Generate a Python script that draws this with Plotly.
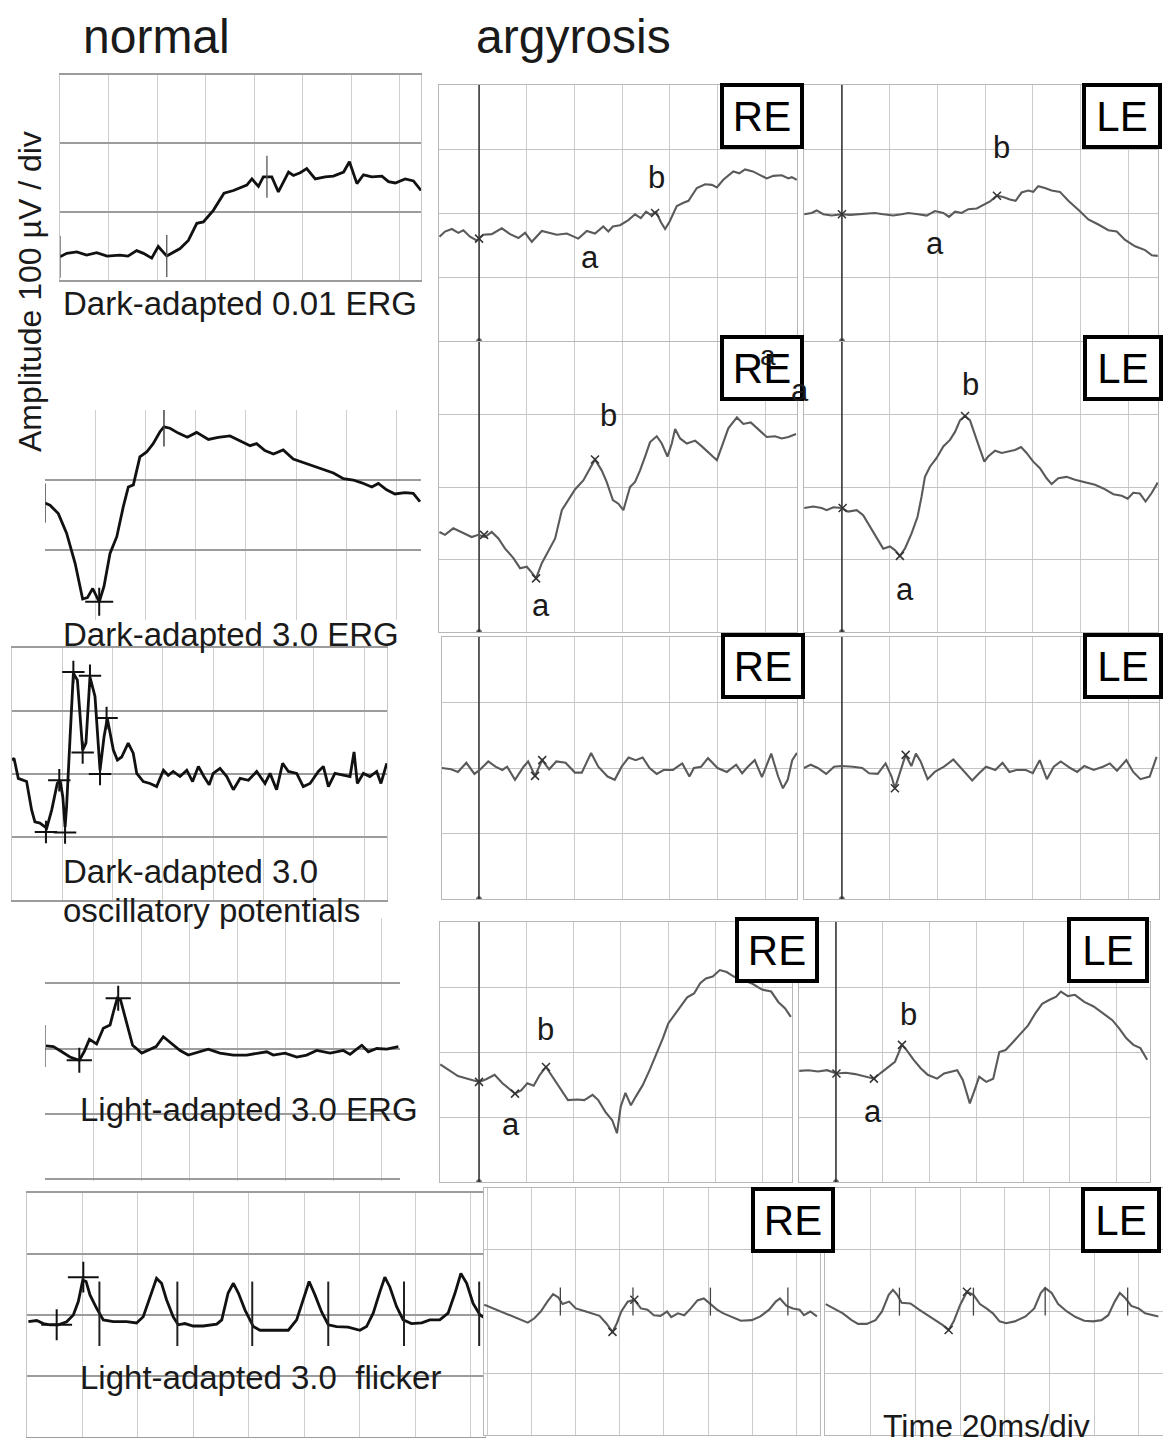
import plotly.graph_objects as go

W, H = 1163, 1438

# ---------------- data: (time ms, amplitude µV) ----------------
# normal subject
n_da001 = [(0,34),(2.8,39),(6.9,41),(11.0,36.5),(15.1,40),(19.4,35),(24.7,36.5),(28.0,35),(31.6,43),(34.4,39),
           (37.8,32),(40.5,49),(44.0,35),(46.1,39),(49.5,46),(52.9,58),(56.4,83),(59.1,85),(63.2,102),(67.6,127),
           (71.5,131),(77.0,139),(79.1,148),(81.8,137),(83.8,151),(87.3,151),(90.0,129),(94.2,158),(96.2,153),(99.0,157),
           (101.7,163),(105.2,148),(109.3,151),(112.7,152),(116.9,158),(119.3,173),(122.4,141),(125.1,154),(128.5,151),
           (132.7,152),(135.4,144),(138.2,142),(142.3,148),(145.7,145),(148.8,131)]
n_da30 = [(0,167),(2.0,164),(5.3,152),(8.6,124),(12.0,81),(15.0,30),(16.9,32),(19.0,45),(21.6,26),(23.5,48),
          (25.9,95),(28.6,119),(31.2,162),(33.2,190),(35.2,193),(37.8,233),(40.5,240),(43.1,252),(45.8,269),(47.4,276),
          (49.8,274),(53.1,267),(56.7,261),(60.4,268),(65.1,258),(69.0,261),(73.7,263),(77.7,256),(81.7,249),(84.3,252),
          (87.6,242),(91.0,237),(94.9,243),(98.9,230),(102.9,225),(106.9,220),(110.9,214),(114.9,210),(118.9,202),
          (122.8,200),(126.2,196),(130.2,190),(132.8,195),(136.1,186),(139.4,180),(143.4,182),(146.7,181),(149.4,169)]
n_ops = [(0,222),(0.8,225),(2.5,193),(4.5,190),(5.8,188),(7.8,143),(9.1,124),(11.1,122),(13.8,114),(15.8,143),
         (18.0,185),(19.1,190),(20.2,164),(21.1,116),(21.7,148),(23.1,259),(24.4,360),(26.0,349),(28.1,238),(29.4,249),
         (31.0,354),(33.0,323),(35.0,206),(36.6,259),(37.9,288),(40.3,238),(41.9,222),(43.6,227),(46.2,249),(48.2,233),
         (49.6,201),(52.2,188),(54.9,185),(57.5,180),(60.2,206),(62.1,198),(64.1,204),(66.8,196),(69.5,206),(71.8,188),
         (74.1,212),(76.3,196),(78.4,183),(80.0,201),(82.7,209),(85.4,196),(88.0,175),(90.7,193),(94.0,190),(97.3,204),
         (100.6,185),(102.6,201),(105.2,175),(107.6,217),(109.9,204),(113.2,201),(115.8,180),(118.5,185),(121.8,204),
         (123.8,212),(125.8,180),(128.4,201),(131.7,198),(134.4,196),(136.0,235),(137.3,185),(139.7,201),(142.3,196),
         (145.0,204),(146.7,185),(149.0,217)]
n_la30 = [(0.4,204),(3.5,203),(7.0,195),(10.4,187),(14.3,182),(16.3,195),(18.5,214),(21.5,207),(24.3,231),(27.1,236),
          (28.5,256),(30.1,277),(31.5,274),(33.8,243),(36.5,205),(40.3,193),(43.0,197),(46.3,203),(49.3,218),(52.8,208),
          (56.3,197),(59.7,190),(63.9,195),(68.0,199),(72.9,193),(78.5,190),(84.0,190),(88.9,193),(92.4,195),(95.1,190),
          (100.0,193),(104.9,187),(109.0,190),(113.2,197),(118.8,193),(124.3,197),(127.1,191),(129.2,197),(132.0,205),
          (134.7,195),(138.2,200),(142.4,199),(147.2,203)]
n_flicker = [(0.5,189),(3.5,191),(5.9,186),(8.3,184),(11.3,184),(14.3,189),(16.7,200),(18.5,222),(20.1,257),(21.3,255),
             (22.7,233),(25.1,211),(27.5,192),(31.1,189),(35.9,189),(39.5,187),(41.9,197),(44.3,230),(46.7,260),(48.5,252),
             (50.3,225),(52.7,197),(54.5,184),(56.9,186),(59.9,182),(63.5,182),(68.4,185),(70.2,192),(72.5,236),(74.4,252),
             (76.2,236),(78.6,208),(81.6,181),(84.0,175),(88.8,175),(94.2,175),(97.2,192),(99.6,225),(101.7,255),(103.8,233),
             (106.2,205),(108.6,184),(111.6,181),(115.8,180),(120.0,175),(122.4,181),(124.8,203),(127.2,238),(129.0,262),
             (130.8,246),(133.2,214),(135.6,192),(138.6,186),(142.3,187),(145.2,192),(148.8,192),(151.8,203),(154.3,236),
             (156.4,268),(158.5,252),(160.8,219),(163.3,200),(165.1,195)]

# argyrosis patient
re_da001 = [(-16.6,163),(-14.3,171),(-11.4,175),(-8.7,169),(-6.6,173),(-3.8,163),(-1.0,157),(1.8,166),(5.3,167),(9.5,176),
            (13.0,167),(16.5,161),(19.3,169),(22.1,155),(26.3,172),(29.8,169),(32.6,166),(36.8,168),(41.6,160),(45.2,172),
            (48.6,168),(52.1,179),(54.2,171),(56.1,179),(59.1,181),(62.6,189),(65.4,198),(67.8,192),(70.0,202),(72.0,197),
            (74.2,202),(76.2,186),(78.0,175),(79.8,186),(82.9,211),(85.7,216),(87.8,219),(91.3,239),(94.8,245),(97.6,244),
            (99.7,240),(102.4,252),(106.6,265),(109.1,262),(111.5,268),(114.8,265),(117.8,259),(120.6,254),(123.4,258),
            (126.9,259),(129.7,254),(131.1,256),(133.2,252)]
le_da001 = [(-15.8,198),(-12.7,200),(-10.6,204),(-7.8,198),(-4.3,196),(-0.1,198),(3.4,197),(6.8,198),(10.4,200),(13.8,200),
            (17.3,198),(21.5,196),(25.0,198),(27.8,200),(32.0,198),(35.5,196),(39.0,203),(42.5,200),(44.9,194),(47.4,202),
            (50.2,200),(53.0,206),(56.5,207),(59.7,213),(62.1,218),(64.9,227),(67.6,225),(70.4,221),(72.8,219),(75.3,232),
            (78.1,235),(80.2,233),(82.3,242),(85.1,239),(87.9,235),(91.4,233),(94.9,219),(99.1,205),(103.3,190),(107.5,182),
            (111.7,173),(115.2,171),(118.7,158),(122.9,148),(127.1,142),(129.9,134),(132.4,133)]
re_da30 = [(-16.6,138),(-14.3,134),(-10.8,143),(-7.3,138),(-3.1,131),(-0.3,134),(2.5,131),(5.3,138),(8.1,129),(10.9,115),
           (14.4,102),(17.2,88),(20.0,90),(22.1,82),(23.9,74),(26.3,95),(29.1,113),(31.9,129),(34.7,168),(37.4,182),
           (40.3,197),(43.7,209),(46.2,223),(48.6,238),(51.4,223),(53.5,207),(56.1,182),(58.4,177),(60.5,168),(63.3,200),
           (65.4,207),(67.5,223),(69.6,242),(71.7,262),(74.5,270),(76.6,260),(79.0,242),(80.8,260),(82.2,280),(84.3,267),
           (87.1,260),(90.6,264),(93.4,256),(96.9,246),(99.7,237),(101.8,256),(104.5,281),(108.1,296),(110.8,287),
           (113.9,289),(117.1,279),(120.6,269),(124.1,270),(126.9,267),(129.7,269),(132.9,273)]
le_da30 = [(-15.8,171),(-12.0,173),(-8.5,171),(-6.4,168),(-3.6,172),(-0.1,171),(2.6,166),(6.2,168),(8.9,161),(11.7,145),
           (14.5,129),(17.3,115),(20.1,118),(22.2,113),(24.3,105),(26.4,115),(29.2,136),(31.7,159),(33.4,187),(34.8,214),
           (36.9,228),(39.7,240),(42.5,256),(45.3,265),(47.4,276),(49.5,292),(51.6,298),(53.7,292),(56.5,265),(59.7,235),
           (61.3,242),(64.2,250),(67.0,247),(69.7,249),(72.5,251),(75.1,255),(77.4,247),(80.2,235),(83.0,226),(85.8,212),
           (87.9,204),(90.7,212),(94.2,214),(97.7,210),(101.9,207),(106.1,203),(109.6,198),(113.8,190),(117.3,188),
           (119.8,184),(122.1,192),(124.9,191),(127.3,180),(129.9,192),(132.4,206)]
re_ops = [(-15.6,200),(-11.7,198),(-8.8,194),(-5.3,208),(-1.9,191),(0.6,198),(3.9,210),(6.9,202),(9.8,197),(11.8,202),
          (15.1,182),(18.7,202),(20.6,210),(23.5,188),(26.5,212),(29.4,198),(32.4,210),(36.3,208),(40.2,193),(43.1,193),
          (47.0,223),(50.0,202),(53.9,187),(56.9,182),(59.8,202),(62.7,216),(65.7,212),(68.6,216),(71.5,200),(74.5,191),
          (77.4,197),(81.3,197),(85.2,207),(88.2,187),(90.1,200),(93.1,202),(96.0,215),(100.0,200),(103.9,194),(107.8,205),
          (110.3,192),(112.7,202),(115.6,212),(118.6,186),(122.5,222),(125.4,187),(127.4,169),(129.4,182),(131.3,212),
          (133.3,223)]
le_ops = [(-16.0,200),(-13.1,205),(-10.1,200),(-6.6,191),(-3.3,202),(-0.3,203),(4.6,202),(8.5,200),(11.4,192),(15.0,191),
          (18.3,207),(20.8,187),(22.2,169),(24.2,192),(26.7,220),(29.1,203),(31.0,222),(33.0,210),(35.9,183),(38.9,194),
          (42.8,202),(46.7,213),(50.6,197),(54.6,181),(57.5,192),(60.4,202),(64.3,197),(67.3,208),(70.2,194),(73.1,197),
          (77.1,197),(80.0,192),(82.9,212),(85.9,183),(88.8,202),(91.7,210),(95.7,200),(98.6,194),(101.6,203),(105.5,197),
          (109.4,202),(112.3,207),(115.3,196),(119.2,212),(122.1,194),(125.1,183),(129.0,187),(131.9,217)]
re_la30 = [(-16.4,181),(-12.8,173),(-8.9,163),(-4.9,159),(0.0,154),(3.0,158),(6.6,165),(9.9,152),(12.9,143),(15.2,136),
           (17.8,141),(20.4,152),(23.1,148),(25.7,165),(28.3,177),(31.0,162),(34.6,141),(37.6,126),(41.5,127),(44.5,126),
           (48.0,134),(50.4,126),(53.4,108),(56.3,95),(58.3,75),(59.9,116),(61.9,137),(64.2,118),(66.2,131),(69.2,149),
           (72.1,172),(75.1,198),(77.7,221),(80.0,244),(84.0,265),(88.0,284),(90.9,290),(93.5,306),(95.9,313),(98.8,316),
           (101.8,326),(104.7,323),(107.7,316),(111.7,311),(115.6,305),(119.6,296),(123.5,293),(126.5,277),(129.4,267),
           (131.8,254)]
le_la30 = [(-15.7,171),(-11.8,172),(-7.7,170),(-3.8,172),(0.2,167),(4.2,168),(8.2,166),(13.2,162),(16.2,159),(19.2,168),
           (22.2,177),(25.2,185),(28.2,211),(30.2,203),(33.2,188),(36.2,175),(39.2,165),(43.2,159),(46.2,167),(49.2,170),
           (51.8,172),(54.2,157),(57.2,121),(59.2,141),(61.2,162),(64.2,154),(67.2,159),(69.8,200),(72.5,203),(75.1,213),
           (78.5,226),(82.1,241),(85.1,259),(88.1,274),(91.1,280),(94.1,285),(96.1,293),(99.1,286),(102.1,288),(106.1,277),
           (110.1,270),(114.1,259),(118.1,249),(121.1,236),(124.1,221),(127.1,211),(130.1,206),(133.0,188)]
re_flicker = [(-1.7,211),(2.3,205),(6.2,200),(11.2,192),(15.1,186),(18.1,182),(21.1,189),(24.0,200),(27.0,216),(29.6,228),
              (31.9,223),(33.9,212),(36.9,216),(39.9,205),(43.8,201),(47.7,197),(50.7,193),(53.7,181),(56.6,167),(58.6,181),
              (60.6,200),(63.5,216),(66.5,219),(69.5,205),(72.5,203),(75.4,194),(78.4,193),(81.4,200),(83.3,191),(86.3,197),
              (89.2,194),(92.2,205),(95.2,218),(98.1,221),(101.1,212),(104.1,203),(107.0,197),(111.0,191),(114.9,185),
              (119.9,186),(123.8,192),(127.8,203),(130.8,216),(132.7,221),(135.7,209),(138.6,205),(141.6,203),(143.6,194),
              (146.5,200),(149.5,192)]
le_flicker = [(-0.1,212),(3.7,205),(7.6,197),(11.5,186),(14.4,180),(18.3,180),(22.2,186),(25.1,200),(28.1,227),(30.0,235),
              (31.9,227),(33.9,214),(37.8,213),(41.7,203),(45.5,194),(49.4,186),(52.3,178),(54.9,170),(57.2,184),(60.1,211),
              (63.1,232),(66.0,227),(68.9,212),(71.8,205),(74.7,197),(77.7,184),(80.6,181),(84.5,184),(89.3,192),(93.2,205),
              (96.1,230),(98.1,238),(101.0,230),(103.9,212),(107.8,200),(111.7,191),(115.6,185),(119.5,184),(123.3,186),
              (126.3,194),(129.2,216),(131.5,230),(134.1,221),(136.6,209),(139.9,205),(142.8,197),(146.7,194),(148.7,192)]

# analysis cursors (time ms, amplitude µV)
n1_ticks = [(0, 34), (44.0, 35), (85.3, 151)]
n2_ticks = [(0, 167), (47.4, 276)]
n2_cross = [(21.6, 26)]
n3_cross = [(13.5, 108), (21.1, 107), (18.8, 190), (24.4, 362), (31.0, 356), (28.1, 234), (37.6, 289), (35.0, 200)]
n4_cross = [(14.3, 182), (30.5, 277)]
n4_ticks = [(0, 204)]
n5_cross = [(10.7, 184), (20.3, 262)]
n5_ticks = [(26.1, 202), (54.2, 202), (81.2, 202), (108.6, 202), (135.9, 202), (163.0, 202)]
re1_marks = [(0, 160), (73.8, 200)]
le1_marks = [(0, 198), (65.0, 227)]
re2_marks = [(2.1, 134), (23.9, 74), (48.6, 238)]
le2_marks = [(0.3, 171), (24.3, 105), (51.6, 298)]
re3_marks = [(23.5, 188), (26.5, 212)]
le3_marks = [(22.2, 169), (26.7, 220)]
re4_marks = [(0, 154), (15.2, 136), (28.3, 177)]
le4_marks = [(0.2, 167), (16.2, 159), (28.2, 211)]
re5_marks = [(56.6, 167), (66.5, 219)]
le5_marks = [(54.9, 170), (63.1, 232)]
re5_ticks = [(32.9, 216), (65.9, 216), (101.1, 216), (136.3, 216)]
le5_ticks = [(32.9, 216), (66.0, 216), (98.1, 216), (135.0, 216)]

# wave labels a / b  (time ms, amplitude µV)
re1_ab = {"a": (46.5, 130), "b": (74.2, 255)}
le1_ab = {"a": (39.0, 153), "b": (67.1, 303)}
re2_ab = {"a": (26.0, 37), "b": (54.1, 299)}
le2_ab = {"a": (26.4, 58), "b": (53.7, 341)}
re4_ab = {"a": (13.5, 88), "b": (27.9, 234)}
le4_ab = {"a": (15.8, 108), "b": (30.8, 258)}

# ---------------- layout of panels (pixel boxes) ----------------
panels = [
    dict(px=(60, 421), py=(75, 280), xr=(0, 148.8), yr=(0, 300), kind="normal", frame=True),
    dict(px=(45, 421), py=(410, 620), xr=(0, 149.8), yr=(0, 300), kind="normal", frame=False),
    dict(px=(12, 387), py=(648, 900), xr=(0, 149.1), yr=(0, 400), kind="normal", frame=True),
    dict(px=(45, 400), py=(918, 1181), xr=(0, 147.9), yr=(-3, 400), kind="normal", frame=False),
    dict(px=(27, 485), py=(1193, 1437), xr=(0, 165.1), yr=(0, 400), kind="normal", frame=True),
    dict(px=(439, 797), py=(85, 341), xr=(-16.8, 133.3), yr=(0, 400), kind="arg", frame=True, stim=True),
    dict(px=(804, 1158), py=(85, 341), xr=(-15.9, 132.5), yr=(0, 400), kind="arg", frame=True, stim=True),
    dict(px=(439, 797), py=(342, 632), xr=(-16.8, 133.3), yr=(0, 400), kind="arg", frame=True, stim=True),
    dict(px=(804, 1158), py=(342, 632), xr=(-15.9, 132.5), yr=(0, 400), kind="arg", frame=True, stim=True),
    dict(px=(442, 797), py=(637, 899), xr=(-15.5, 133.3), yr=(0, 400), kind="arg", frame=True, stim=True),
    dict(px=(804, 1159), py=(637, 899), xr=(-15.9, 132.9), yr=(0, 400), kind="arg", frame=True, stim=True),
    dict(px=(440, 792), py=(922, 1182), xr=(-16.5, 132.3), yr=(0, 400), kind="arg", frame=True, stim=True),
    dict(px=(799, 1150), py=(922, 1182), xr=(-15.8, 134.2), yr=(0, 400), kind="arg", frame=True, stim=True),
    dict(px=(484, 820), py=(1188, 1435), xr=(-1.8, 150.9), yr=(0, 400), kind="arg", frame=True),
    dict(px=(825, 1163), py=(1188, 1435), xr=(-0.4, 150.8), yr=(0, 400), kind="arg", frame=True),
]
traces = [n_da001, n_da30, n_ops, n_la30, n_flicker,
          re_da001, le_da001, re_da30, le_da30, re_ops, le_ops, re_la30, le_la30, re_flicker, le_flicker]

FONT = "Liberation Sans, Arial, sans-serif"
fig = go.Figure()
layout = dict(width=W, height=H, margin=dict(l=0, r=0, t=0, b=0), paper_bgcolor="white",
              plot_bgcolor="white", showlegend=False, font=dict(family=FONT, color="#1a1a1a"))


def ax_id(i):
    return "" if i == 1 else str(i)


for i, p in enumerate(panels, start=1):
    x0, x1 = p["px"]
    y0, y1 = p["py"]
    normal = p["kind"] == "normal"
    xt = [v for v in range(-20, 200, 20) if p["xr"][0] < v < p["xr"][1] - 0.5]
    yt = [v for v in range(0, 500, 100) if p["yr"][0] < v < p["yr"][1]]
    layout["xaxis" + ax_id(i)] = dict(
        domain=[x0 / W, x1 / W], range=list(p["xr"]), anchor="y" + ax_id(i),
        tickvals=xt, showticklabels=False, ticks="", zeroline=False,
        showgrid=True, gridcolor="#cfcfcf" if normal else "#cbcbcb", gridwidth=1,
        showline=p["frame"], mirror=True, linecolor="#9c9c9c" if normal else "#b8b8b8",
        linewidth=1.5 if normal else 1, fixedrange=True)
    layout["yaxis" + ax_id(i)] = dict(
        domain=[1 - y1 / H, 1 - y0 / H], range=list(p["yr"]), anchor="x" + ax_id(i),
        tickvals=yt, showticklabels=False, ticks="", zeroline=False,
        showgrid=True, gridcolor="#9c9c9c" if normal else "#c4c4c4", gridwidth=1.5 if normal else 1,
        showline=p["frame"], mirror=True, linecolor="#c8c8c8" if normal else "#b8b8b8", linewidth=1,
        fixedrange=True)
    xa, ya = "x" + ax_id(i), "y" + ax_id(i)
    if p.get("stim"):
        fig.add_trace(go.Scatter(x=[0, 0], y=[0, 400], mode="lines+markers",
                                 line=dict(color="#3a3a3a", width=1.6),
                                 marker=dict(size=[5, 0], color="#222"),
                                 xaxis=xa, yaxis=ya, hoverinfo="skip"))
    t, v = zip(*traces[i - 1])
    fig.add_trace(go.Scatter(x=t, y=v, mode="lines",
                             line=dict(color="#111111" if normal else "#5a5a5a",
                                       width=2.8 if normal else 2.1),
                             xaxis=xa, yaxis=ya))


def add_marks(pairs, i, symbol, size, color="#333", width=1.5):
    t, v = zip(*pairs)
    fig.add_trace(go.Scatter(x=t, y=v, mode="markers", xaxis="x" + ax_id(i), yaxis="y" + ax_id(i),
                             marker=dict(symbol=symbol, size=size, color=color,
                                         line=dict(color=color, width=width)), hoverinfo="skip"))


add_marks(n1_ticks, 1, "line-ns", 30, "#555", 1.3)
add_marks(n2_ticks, 2, "line-ns", 28, "#444", 1.5)
add_marks(n2_cross, 2, "cross-thin", 20, "#111", 2)
add_marks(n3_cross, 3, "cross-thin", 16, "#111", 2)
add_marks(n4_cross, 4, "cross-thin", 18, "#111", 2)
add_marks(n4_ticks, 4, "line-ns", 30, "#555", 1.3)
add_marks(n5_cross, 5, "cross-thin", 22, "#111", 2)
add_marks(n5_ticks, 5, "line-ns", 46, "#222", 2)
for i, m in zip(range(6, 16), [re1_marks, le1_marks, re2_marks, le2_marks, re3_marks, le3_marks,
                               re4_marks, le4_marks, re5_marks, le5_marks]):
    add_marks(m, i, "x-thin", 8, "#333", 1.5)
add_marks(re5_ticks, 14, "line-ns", 20, "#444", 1.3)
add_marks(le5_ticks, 15, "line-ns", 20, "#444", 1.3)

ann = []
# a / b labels
for i, d in zip([6, 7, 8, 9, 12, 13], [re1_ab, le1_ab, re2_ab, le2_ab, re4_ab, le4_ab]):
    for k, (t, v) in d.items():
        ann.append(dict(x=t, y=v, xref="x" + ax_id(i), yref="y" + ax_id(i), text=k, showarrow=False,
                        font=dict(size=31, family=FONT, color="#1a1a1a")))


def ptext(text, px, py, size, xanchor="left", angle=0):
    ann.append(dict(x=px / W, y=1 - py / H, xref="paper", yref="paper", text=text, showarrow=False,
                    xanchor=xanchor, yanchor="middle", textangle=angle,
                    font=dict(size=size, family=FONT, color="#1a1a1a")))


ptext("normal", 156, 37, 48, "center")
ptext("argyrosis", 573, 37, 48, "center")
ptext("Amplitude 100 µV / div", 30, 292, 32, "center", -90)
ptext("Dark-adapted 0.01 ERG", 61, 304, 33)
ptext("Dark-adapted 3.0 ERG", 61, 635, 33)
ptext("Dark-adapted 3.0", 61, 871, 33)
ptext("oscillatory potentials", 61, 910, 33)
ptext("Light-adapted 3.0 ERG", 78, 1109, 33)
ptext("Light-adapted 3.0  flicker", 78, 1377, 33)
ptext("Time 20ms/div", 881, 1426, 32)

# eye boxes
boxes = [("RE", 762, 116, 76), ("LE", 1122, 116, 72), ("RE", 762, 368, 76), ("LE", 1123, 368, 72),
         ("RE", 763, 666, 76), ("LE", 1123, 666, 72), ("RE", 777, 950, 76), ("LE", 1108, 950, 74),
         ("RE", 793, 1220, 76), ("LE", 1121, 1220, 72)]
for txt, cx, cy, w in boxes:
    ann.append(dict(x=cx / W, y=1 - cy / H, xref="paper", yref="paper", text=txt, showarrow=False,
                    xanchor="center", yanchor="middle", width=w, height=58, borderpad=0,
                    bordercolor="#000", borderwidth=4, bgcolor="white",
                    font=dict(size=42, family=FONT, color="#000")))
# stray labels near the RE box of row 2
ptext("a", 768, 356, 28, "center")
ptext("a", 800, 390, 31, "center")

layout["annotations"] = ann
fig.update_layout(**layout)
fig.write_html("out.html", config={"displayModeBar": False},
               post_script="document.body.style.margin='0';document.body.style.overflow='hidden';")
